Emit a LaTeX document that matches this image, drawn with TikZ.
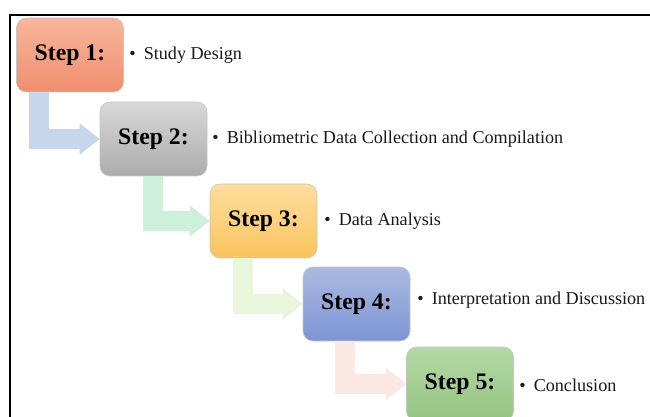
\documentclass[tikz,border=0pt]{standalone}
\usepackage{fontspec}
\setmainfont{Liberation Serif}
\usetikzlibrary{arrows.meta,calc}
\definecolor{aone}{HTML}{C6D6EC}
\definecolor{atwo}{HTML}{CDF0DD}
\definecolor{athree}{HTML}{EAF6DC}
\definecolor{afour}{HTML}{FCE8E3}
\tikzset{
  stepbox/.style={rounded corners=7.5pt, minimum width=80.25pt, minimum height=55.5pt,
    draw=gray!45, line width=0.4pt, inner sep=0pt,
    font=\fontsize{17.8}{20}\selectfont\bfseries, text=black},
  steplabel/.style={anchor=west, inner sep=0pt, font=\fontsize{13.6}{16}\selectfont, text=black!90},
  bentarrow/.style={line width=15pt, line join=miter, -{Triangle[length=15pt,width=22.5pt]}},
}
\newcommand{\bul}{\textbullet\hspace{0.45em}}
\begin{document}
\begin{tikzpicture}[x=0.75pt,y=-0.75pt]
\useasboundingbox (0,0) rectangle (650,417);
\fill[white] (0,0) rectangle (650,417);
\draw[line width=1.5pt] (650,15) -- (10,15) -- (10,417);

\node[stepbox, top color={rgb,255:red,248;green,182;blue,156}, bottom color={rgb,255:red,239;green,142;blue,110}] (s1) at (70,55) {Step 1:};
\node[stepbox, top color={rgb,255:red,216;green,216;blue,216}, bottom color={rgb,255:red,172;green,172;blue,172}] (s2) at (153.5,139) {Step 2:};
\node[stepbox, top color={rgb,255:red,255;green,221;blue,158}, bottom color={rgb,255:red,249;green,196;blue,94}] (s3) at (263.5,221) {Step 3:};
\node[stepbox, top color={rgb,255:red,170;green,186;blue,226}, bottom color={rgb,255:red,125;green,149;blue,209}] (s4) at (356.5,304) {Step 4:};
\node[stepbox, top color={rgb,255:red,180;green,216;blue,166}, bottom color={rgb,255:red,149;green,196;blue,127}] (s5) at (460,384) {Step 5:};

\node[steplabel] (l1) at (129,55) {\bul Study Design};
\node[steplabel] (l2) at (212,139) {\bul Bibliometric Data Collection and Compilation};
\node[steplabel] (l3) at (324,221) {\bul Data Analysis};
\node[steplabel] (l4) at (417,300) {\bul Interpretation and Discussion};
\node[steplabel] (l5) at (519,385) {\bul Conclusion};

\draw[bentarrow, aone] ($(s1.south west)+(23,0)$) |- (s2.west);
\draw[bentarrow, atwo] ($(s2.south west)+(53,0)$) |- (s3.west);
\draw[bentarrow, athree] ($(s3.south west)+(33,0)$) |- (s4.west);
\draw[bentarrow, afour] ($(s4.south west)+(42,0)$) |- (s5.west);
\end{tikzpicture}
\end{document}
